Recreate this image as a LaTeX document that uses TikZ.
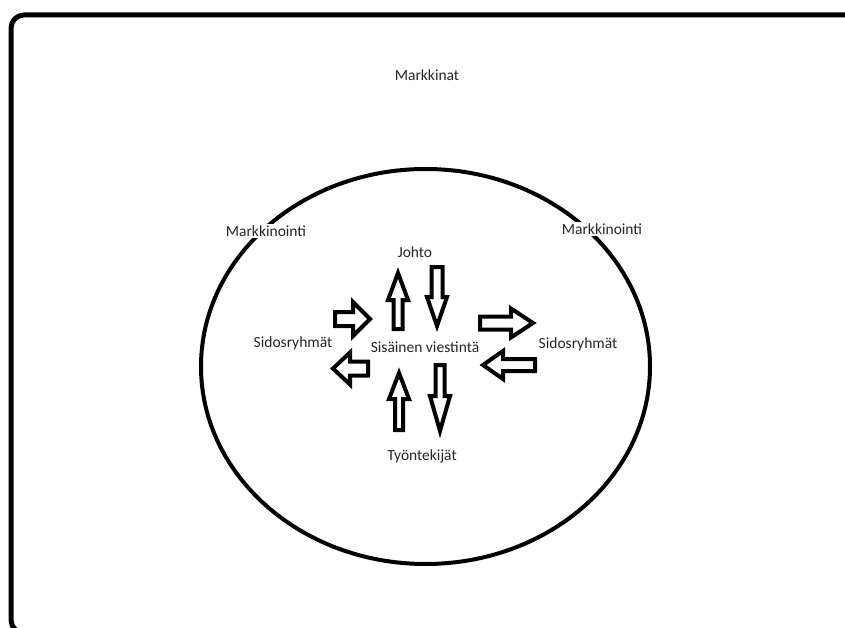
\documentclass[tikz,border=0pt]{standalone}
\usepackage{fontspec}
\setmainfont{Carlito}
\usetikzlibrary{shapes.geometric}
\tikzset{
  lbl/.style={inner sep=1pt, font=\fontsize{15.5}{18}\selectfont, text=black!85},
  wlbl/.style={lbl, fill=white, inner sep=2pt},
  arrowline/.style={draw=black, line width=4pt, line join=miter, fill=white},
  pics/blockarrow/.style n args={4}{code={
    \draw[arrowline] (0,-#3) -- ({#1-#2},-#3) -- ({#1-#2},-#4) -- (#1,0)
      -- ({#1-#2},#4) -- ({#1-#2},#3) -- (0,#3) -- cycle;}}
}
\begin{document}
\begin{tikzpicture}[x=1pt,y=-1pt]
\useasboundingbox (0,0) rectangle (845,628);
\fill[white] (0,0) rectangle (845,628);
\begin{scope}
\clip (0,0) rectangle (845,628);
\draw[line width=5pt, rounded corners=13pt] (11,15) rectangle (858,633);
\end{scope}
\node[draw, ellipse, line width=4pt, inner sep=0pt, minimum width=449pt, minimum height=395pt] (ell) at (425.5,366.5) {};
\node[lbl] (markkinat) at (427,75) {Markkinat};
\node[wlbl] (mkl) at (266,231) {Markkinointi};
\node[wlbl] (mkr) at (602,229) {Markkinointi};
\node[lbl] (johto) at (415,252) {Johto};
\node[lbl] (sis) at (425,347) {Sisäinen viestintä};
\node[lbl] (sidl) at (293,343) {Sidosryhmät};
\node[lbl] (sidr) at (578,344) {Sidosryhmät};
\node[lbl] (tyo) at (422,456) {Työntekijät};
% arrows
\pic[shift={(398,329)}, rotate=90] {blockarrow={56}{27}{4.5}{10}};
\pic[shift={(437,267)}, rotate=-90] {blockarrow={59}{29}{5.5}{10}};
\pic[shift={(335,319)}, rotate=0] {blockarrow={35}{17}{7}{17}};
\pic[shift={(368,368.5)}, rotate=180] {blockarrow={35}{17}{7}{16}};
\pic[shift={(480,323)}, rotate=0] {blockarrow={53}{22}{6.5}{14.5}};
\pic[shift={(535,365)}, rotate=180] {blockarrow={52}{20}{6}{14}};
\pic[shift={(399,430)}, rotate=90] {blockarrow={57}{26}{4}{10}};
\pic[shift={(440,365)}, rotate=-90] {blockarrow={66}{35}{4.5}{10}};
\end{tikzpicture}
\end{document}
